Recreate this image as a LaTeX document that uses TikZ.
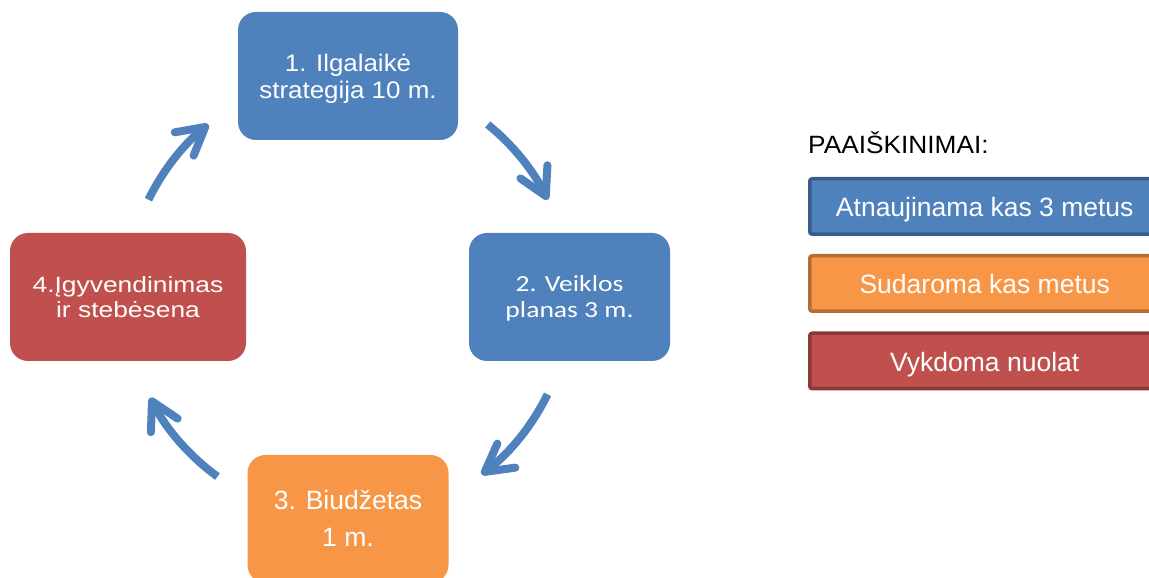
\documentclass[tikz,border=0pt]{standalone}
\usepackage{fontspec}
\setmainfont{Liberation Sans}
\newfontfamily\wideA[FakeStretch=1.08]{Liberation Sans}
\newfontfamily\wideB[FakeStretch=1.2]{Liberation Sans}
\newfontfamily\calwide[FakeStretch=1.2]{Carlito}
\newfontfamily\headfont[FakeStretch=1.05]{Liberation Sans}
\usetikzlibrary{arrows.meta}
\definecolor{cycblue}{HTML}{4F81BD}
\definecolor{cycorange}{HTML}{F79646}
\definecolor{cycred}{HTML}{C0504D}
\definecolor{edgeblue}{HTML}{385D8A}
\definecolor{edgeorange}{HTML}{B66D31}
\definecolor{edgered}{HTML}{8C3836}
\tikzset{
  stagebox/.style={rectangle, rounded corners=18pt, inner sep=0pt, text=white,
    align=center, minimum height=128pt, text depth=0pt},
  keybox/.style={rectangle, rounded corners=2.5pt, line width=3.5pt, inner sep=0pt,
    text=white, minimum width=350pt, minimum height=55.5pt,
    text height=21pt, text depth=0pt,
    font=\fontsize{26.5}{30}\selectfont},
  cyclearrow/.style={cycblue, line width=8pt,
    -{Straight Barb[length=27pt,width=30pt,round]}},
}
\begin{document}
\begin{tikzpicture}[x=1pt,y=1pt]
\useasboundingbox (0,0) rectangle (1149,578);
\clip (0,0) rectangle (1149,578);

% the four stages of the planning cycle
\node[stagebox, fill=cycblue, minimum width=220pt, text height=44.6pt,
  font=\wideA\fontsize{24}{27}\selectfont] (s1) at (348,502)
  {1. Ilgalaikė\\strategija 10 m.};
\node[stagebox, fill=cycblue, minimum width=201pt, text height=41.4pt,
  font=\calwide\fontsize{23}{26}\selectfont] (s2) at (569.5,281)
  {2. Veiklos\\planas 3 m.};
\node[stagebox, fill=cycorange, minimum width=201pt, text height=55.4pt,
  font=\fontsize{26.5}{37}\selectfont] (s3) at (348,59)
  {3. Biudžetas\\1 m.};
\node[stagebox, fill=cycred, minimum width=236pt, text height=41.6pt,
  font=\wideB\fontsize{22}{25}\selectfont] (s4) at (128,281)
  {4.Įgyvendinimas\\ir stebėsena};

% curved arrows around the cycle centre
\coordinate (cyc) at (348,281);
\draw[cyclearrow] ([shift={(51:222)}]cyc) arc[start angle=51, end angle=26, radius=222];
\draw[cyclearrow] ([shift={(-26:222)}]cyc) arc[start angle=-26, end angle=-53, radius=222];
\draw[cyclearrow] ([shift={(-126:222)}]cyc) arc[start angle=-126, end angle=-153, radius=222];
\draw[cyclearrow] ([shift={(154:222)}]cyc) arc[start angle=154, end angle=129, radius=222];

% legend
\node[anchor=base west, inner sep=0pt, font=\headfont\fontsize{25}{28}\selectfont] (keyhead)
  at (808,424.7) {PAAIŠKINIMAI:};
\node[keybox, fill=cycblue, draw=edgeblue] (k1) at (984.75,371.5) {Atnaujinama kas 3 metus};
\node[keybox, fill=cycorange, draw=edgeorange] (k2) at (984.75,294.5) {Sudaroma kas metus};
\node[keybox, fill=cycred, draw=edgered] (k3) at (984.75,217) {Vykdoma nuolat};
\end{tikzpicture}
\end{document}
